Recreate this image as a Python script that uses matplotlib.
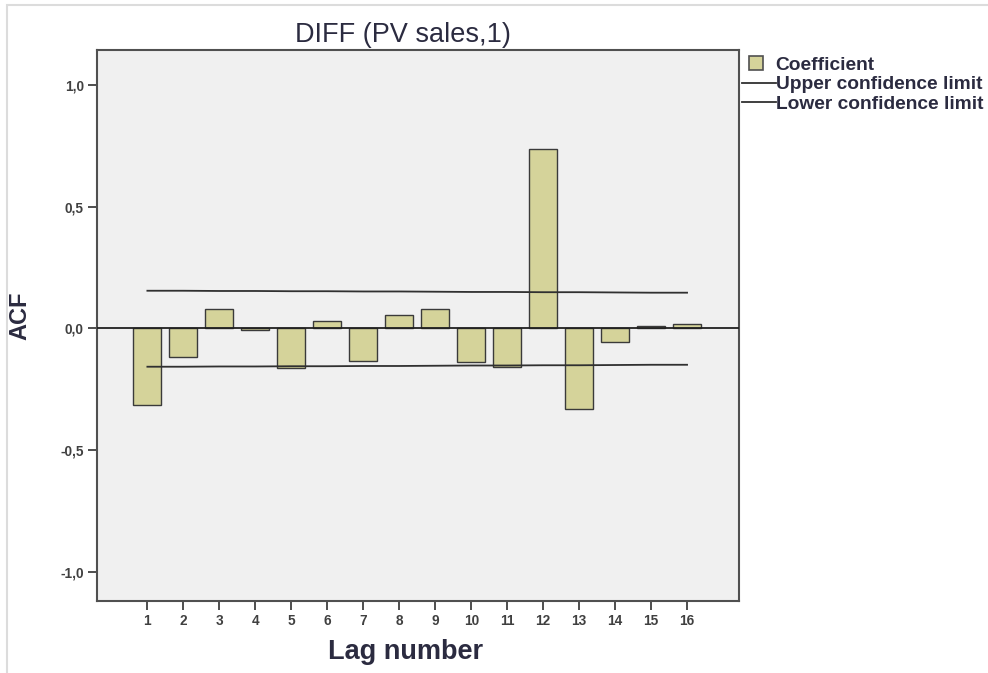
import numpy as np
import matplotlib.pyplot as plt
from matplotlib.patches import Rectangle
from matplotlib.lines import Line2D
from matplotlib.legend_handler import HandlerPatch

plt.rcParams['font.family'] = ['Liberation Sans', 'DejaVu Sans']

# ACF of the first difference of PV sales
lags = list(range(1, 17))
acf = [-0.315, -0.119, 0.078, -0.008, -0.164, 0.029, -0.135, 0.057,
       0.078, -0.139, -0.160, 0.738, -0.332, -0.057, 0.012, 0.020]
upper_limit = [0.155, 0.155, 0.154, 0.154, 0.153, 0.153, 0.152, 0.152,
               0.151, 0.150, 0.150, 0.149, 0.149, 0.148, 0.147, 0.147]
lower_limit = [-0.157, -0.157, -0.156, -0.156, -0.155, -0.155, -0.154, -0.154,
               -0.153, -0.152, -0.152, -0.151, -0.151, -0.150, -0.149, -0.149]
yticks = [-1.0, -0.5, 0.0, 0.5, 1.0]
ytick_labels = ["-1,0", "-0,5", "0,0", "0,5", "1,0"]

bar_color = "#d5d39a"
edge_color = "#3a3a3a"
text_color = "#2b2b40"


class SquarePatch(HandlerPatch):
    """Draw the bar swatch as a small square inside the handle box."""
    def create_artists(self, legend, orig_handle, xdescent, ydescent,
                       width, height, fontsize, trans):
        side = 10
        p = Rectangle((5 - xdescent, -ydescent + (height - side) / 2),
                      side, side, facecolor=orig_handle.get_facecolor(),
                      edgecolor=orig_handle.get_edgecolor(),
                      linewidth=orig_handle.get_linewidth(), transform=trans)
        return [p]


fig = plt.figure(figsize=(9.88, 6.73), dpi=100)
ax = fig.add_axes([0.0982, 0.107, 0.650, 0.8185])
ax.set_facecolor("#f0f0f0")

ax.bar(lags, acf, width=0.78, color=bar_color, edgecolor=edge_color,
       linewidth=1.0, zorder=2)
ax.axhline(0, color="#202020", linewidth=1.3, zorder=3)
ax.plot(lags, upper_limit, color="#303030", linewidth=1.3, zorder=4)
ax.plot(lags, lower_limit, color="#303030", linewidth=1.3, zorder=4)

ax.set_xlim(-0.4, 17.45)
ax.set_ylim(-1.119, 1.143)
ax.set_xticks(lags)
ax.set_xticklabels([str(l) for l in lags])
ax.set_yticks(yticks)
ax.set_yticklabels(ytick_labels)
ax.tick_params(axis='both', direction='out', length=6.5, width=1.3,
               colors="#404040", labelsize=9.8, labelcolor="#404040", pad=3)
for lbl in ax.get_xticklabels() + ax.get_yticklabels():
    lbl.set_fontweight('bold')
for side in ax.spines.values():
    side.set_color("#505050")
    side.set_linewidth(1.5)

fig.text(0.408, 0.948, "DIFF (PV sales,1)", fontsize=19.5, color=text_color,
         ha='center', va='center')
ax.set_xlabel("Lag number", fontsize=19.5, fontweight='bold', color=text_color)
ax.xaxis.set_label_coords(0.48, -0.069)
ax.set_ylabel("ACF", fontsize=17, fontweight='bold', color=text_color)
ax.yaxis.set_label_coords(-0.1025, 0.517)

handles = [Rectangle((0, 0), 1, 1, facecolor=bar_color, edgecolor="#505050",
                     linewidth=1.2),
           Line2D([], [], color="#303030", linewidth=1.3),
           Line2D([], [], color="#303030", linewidth=1.3)]
fig.legend(handles, ["Coefficient", "Upper confidence limit",
                     "Lower confidence limit"],
           loc='upper left', bbox_to_anchor=(0.751, 0.916), frameon=False,
           prop={'weight': 'bold', 'size': 13.8}, labelcolor=text_color,
           handlelength=1.75, handletextpad=0.0, labelspacing=0.1,
           borderpad=0.0, borderaxespad=0.0,
           handler_map={Rectangle: SquarePatch()})

# light outer border of the chart area
fig.add_artist(Rectangle((0.007, -0.02), 1.1, 1.012, transform=fig.transFigure,
                         fill=False, edgecolor="#dcdcdc", linewidth=1.5))

fig.savefig("out.png", dpi=100, facecolor="white")
